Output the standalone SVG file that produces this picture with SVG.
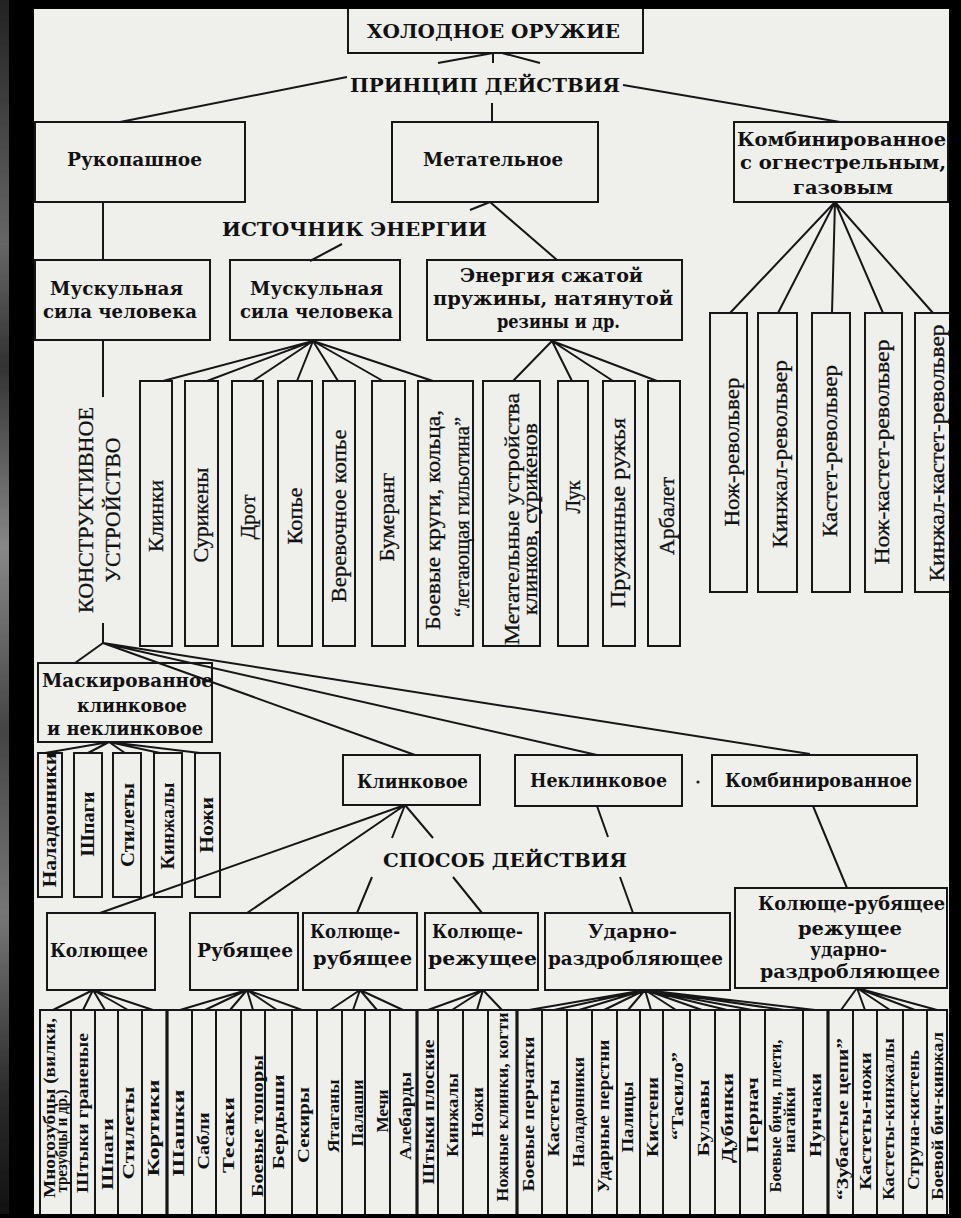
<svg xmlns="http://www.w3.org/2000/svg" width="961" height="1218" viewBox="0 0 961 1218">
<defs>
<linearGradient id="streak" x1="0" y1="0" x2="0" y2="1">
<stop offset="0" stop-color="#222"/><stop offset="0.2" stop-color="#666"/><stop offset="0.3" stop-color="#333"/><stop offset="0.45" stop-color="#888"/><stop offset="0.6" stop-color="#444"/><stop offset="0.75" stop-color="#777"/><stop offset="0.9" stop-color="#2a2a2a"/><stop offset="1" stop-color="#111"/>
</linearGradient>
<style>
.bx{fill:none;stroke:#161616;stroke-width:2}
.ln{fill:none;stroke:#161616;stroke-width:2}
.hd{font-family:"DejaVu Serif","Liberation Serif",serif;font-weight:bold;font-size:19px;fill:#111}
.t{font-family:"DejaVu Serif","Liberation Serif",serif;font-weight:bold;font-size:18px;fill:#111}
.v{font-family:"Liberation Serif","DejaVu Serif",serif;font-size:22px;fill:#111;text-anchor:middle;stroke:#111;stroke-width:0.3}
.vb{font-family:"Liberation Serif","DejaVu Serif",serif;font-weight:bold;font-size:18px;fill:#111;text-anchor:middle}
.vs{font-family:"Liberation Serif","DejaVu Serif",serif;font-weight:bold;font-size:17px;fill:#111;text-anchor:middle}
</style>
</defs>
<rect x="0" y="0" width="961" height="1218" fill="#000"/>
<rect x="0" y="0" width="9" height="1218" fill="url(#streak)"/>
<rect x="34" y="9" width="915" height="1205" fill="#efefec"/>

<g id="connectors" class="ln">
<path d="M493 53L438 63M502 53L540 63M493 53V63M492 103V122M347 77L120 122M623 85L840 122"/>
<path d="M490 202L470 210M490 202L557 260M342 244L310 261"/>
<path d="M103 202V260M103 340V397M103 623V643"/>
<path d="M313 341L163 381M313 341L207 381M313 341L253 381M313 341L297 381M313 341L338 381M313 341L383 381M313 341L433 381"/>
<path d="M552 341L513 381M552 341L572 381M552 341L613 381M552 341L657 381"/>
<path d="M835 202L730 313M835 202L778 313M835 202L832 313M835 202L883 313M835 202L933 313"/>
<path d="M103 643L75 663M103 643L415 755M103 643L597 755M103 643L810 754"/>
<path d="M109 742L45 753M109 742L88 753M109 742L125 753M109 742L160 753M109 742L200 753"/>
<path d="M405 805L392 838M405 805L433 838M405 805L100 913M405 805L247 913M372 877L357 913M453 877L482 913"/>
<path d="M597 806L608 837M620 877L633 913M813 806L847 888"/>
<path d="M93 990L53 1010M93 990L83 1010M93 990L105 1010M93 990L128 1010M93 990L153 1010"/>
<path d="M247 990L180 1010M247 990L205 1010M247 990L230 1010M247 990L253 1010M247 990L277 1010M247 990L302 1010"/>
<path d="M360 990L330 1010M360 990L353 1010M360 990L377 1010M360 990L403 1010"/>
<path d="M483 990L428 1010M483 990L452 1010M483 990L477 1010M483 990L502 1010"/>
<path d="M645 990L529 1010M645 990L554 1010M645 990L579 1010M645 990L604 1010M645 990L628 1010M645 990L651 1010M645 990L676 1010M645 990L702 1010M645 990L727 1010M645 990L752 1010M645 990L784 1010M645 990L815 1010"/>
<path d="M857 988L841 1010M857 988L865 1010M857 988L890 1010M857 988L915 1010M857 988L937 1010"/>
</g>

<g id="n-root"><rect class="bx" x="348" y="2" width="295" height="51"/><text class="hd" x="367" y="38" textLength="253" lengthAdjust="spacingAndGlyphs">ХОЛОДНОЕ ОРУЖИЕ</text></g>
<g id="l-principle"><text class="hd" x="350" y="92" textLength="270" lengthAdjust="spacingAndGlyphs">ПРИНЦИП ДЕЙСТВИЯ</text></g>
<g id="n-hand"><rect class="bx" x="35" y="122" width="210" height="80"/><text class="t" x="67" y="166" textLength="135" lengthAdjust="spacingAndGlyphs">Рукопашное</text></g>
<g id="n-throw"><rect class="bx" x="392" y="122" width="206" height="80"/><text class="t" x="423" y="166" textLength="140" lengthAdjust="spacingAndGlyphs">Метательное</text></g>
<g id="n-combfire"><rect class="bx" x="734" y="122" width="214" height="80"/>
<text class="t" x="737" y="146" textLength="209" lengthAdjust="spacingAndGlyphs">Комбинированное</text>
<text class="t" x="740" y="169" textLength="206" lengthAdjust="spacingAndGlyphs">с  огнестрельным,</text>
<text class="t" x="793" y="194" textLength="100" lengthAdjust="spacingAndGlyphs">газовым</text></g>
<g id="l-energy"><text class="hd" x="222" y="236" textLength="265" lengthAdjust="spacingAndGlyphs">ИСТОЧНИК ЭНЕРГИИ</text></g>
<g id="n-musc1"><rect class="bx" x="35" y="260" width="175" height="80"/>
<text class="t" x="50" y="295" textLength="133" lengthAdjust="spacingAndGlyphs">Мускульная</text>
<text class="t" x="43" y="318" textLength="154" lengthAdjust="spacingAndGlyphs">сила  человека</text></g>
<g id="n-musc2"><rect class="bx" x="230" y="260" width="170" height="80"/>
<text class="t" x="250" y="295" textLength="133" lengthAdjust="spacingAndGlyphs">Мускульная</text>
<text class="t" x="240" y="318" textLength="153" lengthAdjust="spacingAndGlyphs">сила  человека</text></g>
<g id="n-spring"><rect class="bx" x="427" y="260" width="255" height="80"/>
<text class="t" x="460" y="282" textLength="183" lengthAdjust="spacingAndGlyphs">Энергия сжатой</text>
<text class="t" x="433" y="305" textLength="240" lengthAdjust="spacingAndGlyphs">пружины,  натянутой</text>
<text class="t" x="497" y="328" textLength="123" lengthAdjust="spacingAndGlyphs">резины и др.</text></g>

<g id="l-construct">
<text class="v" transform="translate(93,510) rotate(-90)" textLength="206" lengthAdjust="spacingAndGlyphs">КОНСТРУКТИВНОЕ</text>
<text class="v" transform="translate(120,510) rotate(-90)" textLength="145" lengthAdjust="spacingAndGlyphs">УСТРОЙСТВО</text></g>

<g id="n-klinki"><rect class="bx" x="140" y="381" width="32" height="265"/><text class="v" transform="translate(163,516) rotate(-90)" textLength="72" lengthAdjust="spacingAndGlyphs">Клинки</text></g>
<g id="n-suriken"><rect class="bx" x="185" y="381" width="33" height="265"/><text class="v" transform="translate(208,515) rotate(-90)" textLength="95" lengthAdjust="spacingAndGlyphs">Сурикены</text></g>
<g id="n-drot"><rect class="bx" x="232" y="381" width="31" height="265"/><text class="v" transform="translate(255,517) rotate(-90)" textLength="45" lengthAdjust="spacingAndGlyphs">Дрот</text></g>
<g id="n-kopye"><rect class="bx" x="278" y="381" width="34" height="265"/><text class="v" transform="translate(302,516) rotate(-90)" textLength="57" lengthAdjust="spacingAndGlyphs">Копье</text></g>
<g id="n-rope"><rect class="bx" x="323" y="381" width="32" height="265"/><text class="v" transform="translate(346,516) rotate(-90)" textLength="173" lengthAdjust="spacingAndGlyphs">Веревочное  копье</text></g>
<g id="n-boomer"><rect class="bx" x="372" y="381" width="33" height="265"/><text class="v" transform="translate(394,517) rotate(-90)" textLength="89" lengthAdjust="spacingAndGlyphs">Бумеранг</text></g>
<g id="n-circles"><rect class="bx" x="418" y="381" width="55" height="265"/>
<text class="v" transform="translate(440,520) rotate(-90)" textLength="220" lengthAdjust="spacingAndGlyphs">Боевые  круги,  кольца,</text>
<text class="v" transform="translate(469,517) rotate(-90)" textLength="200" lengthAdjust="spacingAndGlyphs">“летающая гильотина”</text></g>
<g id="n-launch"><rect class="bx" x="483" y="381" width="57" height="265"/>
<text class="v" transform="translate(519,519) rotate(-90)" textLength="252" lengthAdjust="spacingAndGlyphs">Метательные  устройства</text>
<text class="v" transform="translate(537,519) rotate(-90)" textLength="192" lengthAdjust="spacingAndGlyphs">клинков,  сурикенов</text></g>
<g id="n-luk"><rect class="bx" x="558" y="381" width="30" height="265"/><text class="v" transform="translate(580,497) rotate(-90)" textLength="33" lengthAdjust="spacingAndGlyphs">Лук</text></g>
<g id="n-springgun"><rect class="bx" x="603" y="381" width="32" height="265"/><text class="v" transform="translate(625,513) rotate(-90)" textLength="190" lengthAdjust="spacingAndGlyphs">Пружинные  ружья</text></g>
<g id="n-arbalet"><rect class="bx" x="648" y="381" width="32" height="265"/><text class="v" transform="translate(674,516) rotate(-90)" textLength="78" lengthAdjust="spacingAndGlyphs">Арбалет</text></g>

<g id="n-knifrev"><rect class="bx" x="710" y="313" width="37" height="279"/><text class="v" transform="translate(739,452) rotate(-90)" textLength="149" lengthAdjust="spacingAndGlyphs">Нож-револьвер</text></g>
<g id="n-dagrev"><rect class="bx" x="758" y="313" width="39" height="279"/><text class="v" transform="translate(787,454) rotate(-90)" textLength="188" lengthAdjust="spacingAndGlyphs">Кинжал-револьвер</text></g>
<g id="n-kastrev"><rect class="bx" x="812" y="313" width="38" height="279"/><text class="v" transform="translate(837,451) rotate(-90)" textLength="172" lengthAdjust="spacingAndGlyphs">Кастет-револьвер</text></g>
<g id="n-knkastrev"><rect class="bx" x="865" y="313" width="37" height="279"/><text class="v" transform="translate(889,452) rotate(-90)" textLength="225" lengthAdjust="spacingAndGlyphs">Нож-кастет-револьвер</text></g>
<g id="n-dgkastrev"><rect class="bx" x="915" y="313" width="40" height="279"/><text class="v" transform="translate(944,453) rotate(-90)" textLength="257" lengthAdjust="spacingAndGlyphs">Кинжал-кастет-револьвер</text></g>

<g id="n-masked"><rect class="bx" x="38" y="663" width="174" height="79"/>
<text class="t" x="42" y="687" textLength="171" lengthAdjust="spacingAndGlyphs">Маскированное</text>
<text class="t" x="77" y="712" textLength="110" lengthAdjust="spacingAndGlyphs">клинковое</text>
<text class="t" x="47" y="735" textLength="156" lengthAdjust="spacingAndGlyphs">и  неклинковое</text></g>
<g id="n-m-nalad"><rect class="bx" x="38" y="753" width="24" height="144"/><text class="vb" transform="translate(56,820) rotate(-90)" textLength="135" lengthAdjust="spacingAndGlyphs">Наладонники</text></g>
<g id="n-m-shpagi"><rect class="bx" x="74" y="753" width="28" height="144"/><text class="vb" transform="translate(94,824) rotate(-90)" textLength="65" lengthAdjust="spacingAndGlyphs">Шпаги</text></g>
<g id="n-m-stilet"><rect class="bx" x="113" y="753" width="28" height="144"/><text class="vb" transform="translate(134,825) rotate(-90)" textLength="84" lengthAdjust="spacingAndGlyphs">Стилеты</text></g>
<g id="n-m-kinzh"><rect class="bx" x="154" y="753" width="28" height="144"/><text class="vb" transform="translate(174,826) rotate(-90)" textLength="87" lengthAdjust="spacingAndGlyphs">Кинжалы</text></g>
<g id="n-m-nozhi"><rect class="bx" x="195" y="753" width="25" height="144"/><text class="vb" transform="translate(213,825) rotate(-90)" textLength="56" lengthAdjust="spacingAndGlyphs">Ножи</text></g>

<g id="n-blade"><rect class="bx" x="343" y="755" width="137" height="50"/><text class="t" x="357" y="788" textLength="111" lengthAdjust="spacingAndGlyphs">Клинковое</text></g>
<g id="n-noblade"><rect class="bx" x="515" y="755" width="167" height="51"/><text class="t" x="530" y="787" textLength="137" lengthAdjust="spacingAndGlyphs">Неклинковое</text></g>
<circle cx="698" cy="782" r="1.6" fill="#222"/>
<g id="n-combined"><rect class="bx" x="712" y="755" width="205" height="51"/><text class="t" x="725" y="787" textLength="187" lengthAdjust="spacingAndGlyphs">Комбинированное</text></g>
<g id="l-method"><text class="hd" x="383" y="867" textLength="244" lengthAdjust="spacingAndGlyphs">СПОСОБ ДЕЙСТВИЯ</text></g>

<g id="n-stab"><rect class="bx" x="47" y="913" width="108" height="77"/><text class="t" x="50" y="957" textLength="98" lengthAdjust="spacingAndGlyphs">Колющее</text></g>
<g id="n-chop"><rect class="bx" x="190" y="913" width="108" height="77"/><text class="t" x="197" y="957" textLength="96" lengthAdjust="spacingAndGlyphs">Рубящее</text></g>
<g id="n-stabchop"><rect class="bx" x="303" y="913" width="114" height="77"/>
<text class="t" x="310" y="938" textLength="90" lengthAdjust="spacingAndGlyphs">Колюще-</text>
<text class="t" x="313" y="965" textLength="99" lengthAdjust="spacingAndGlyphs">рубящее</text></g>
<g id="n-stabcut"><rect class="bx" x="425" y="913" width="113" height="77"/>
<text class="t" x="432" y="938" textLength="91" lengthAdjust="spacingAndGlyphs">Колюще-</text>
<text class="t" x="428" y="965" textLength="109" lengthAdjust="spacingAndGlyphs">режущее</text></g>
<g id="n-crush"><rect class="bx" x="545" y="913" width="185" height="77"/>
<text class="t" x="588" y="938" textLength="89" lengthAdjust="spacingAndGlyphs">Ударно-</text>
<text class="t" x="548" y="965" textLength="175" lengthAdjust="spacingAndGlyphs">раздробляющее</text></g>
<g id="n-all"><rect class="bx" x="735" y="888" width="212" height="100"/>
<text class="t" x="758" y="910" textLength="187" lengthAdjust="spacingAndGlyphs">Колюще-рубящее</text>
<text class="t" x="798" y="935" textLength="104" lengthAdjust="spacingAndGlyphs">режущее</text>
<text class="t" x="810" y="956" textLength="77" lengthAdjust="spacingAndGlyphs">ударно-</text>
<text class="t" x="760" y="978" textLength="180" lengthAdjust="spacingAndGlyphs">раздробляющее</text></g>

<g id="n-strips">
<rect class="bx" x="40" y="1010" width="907" height="206"/>
<path class="ln" d="M71 1010V1216M95 1010V1216M118 1010V1216M142 1010V1216M192 1010V1216M216 1010V1216M241 1010V1216M265 1010V1216M292 1010V1216M317 1010V1216M342 1010V1216M365 1010V1216M390 1010V1216M438 1010V1216M463 1010V1216M488 1010V1216M542 1010V1216M567 1010V1216M592 1010V1216M617 1010V1216M640 1010V1216M663 1010V1216M690 1010V1216M715 1010V1216M740 1010V1216M765 1010V1216M803 1010V1216M853 1010V1216M877 1010V1216M903 1010V1216M927 1010V1216"/>
<path d="M167 1010V1216M417 1010V1216M517 1010V1216M828 1010V1216" stroke="#161616" stroke-width="3.2"/>
</g>
<g id="n-b-labels">
<text class="vs" font-size="14" transform="translate(55,1108) rotate(-90)" textLength="180" lengthAdjust="spacingAndGlyphs">Многозубцы (вилки,</text>
<text class="vs" font-size="14" transform="translate(67,1141) rotate(-90)" textLength="103" lengthAdjust="spacingAndGlyphs">трезубцы и др.)</text>
<text class="vs" transform="translate(88,1113) rotate(-90)" textLength="160" lengthAdjust="spacingAndGlyphs">Штыки граненые</text>
<text class="vs" transform="translate(113,1154) rotate(-90)" textLength="72" lengthAdjust="spacingAndGlyphs">Шпаги</text>
<text class="vs" transform="translate(134,1133) rotate(-90)" textLength="93" lengthAdjust="spacingAndGlyphs">Стилеты</text>
<text class="vs" transform="translate(159,1128) rotate(-90)" textLength="97" lengthAdjust="spacingAndGlyphs">Кортики</text>
<text class="vs" transform="translate(184,1133) rotate(-90)" textLength="87" lengthAdjust="spacingAndGlyphs">Шашки</text>
<text class="vs" transform="translate(209,1141) rotate(-90)" textLength="57" lengthAdjust="spacingAndGlyphs">Сабли</text>
<text class="vs" transform="translate(234,1135) rotate(-90)" textLength="76" lengthAdjust="spacingAndGlyphs">Тесаки</text>
<text class="vs" transform="translate(263,1126) rotate(-90)" textLength="142" lengthAdjust="spacingAndGlyphs">Боевые топоры</text>
<text class="vs" transform="translate(284,1122) rotate(-90)" textLength="95" lengthAdjust="spacingAndGlyphs">Бердыши</text>
<text class="vs" transform="translate(309,1125) rotate(-90)" textLength="76" lengthAdjust="spacingAndGlyphs">Секиры</text>
<text class="vs" transform="translate(339,1116) rotate(-90)" textLength="73" lengthAdjust="spacingAndGlyphs">Ятаганы</text>
<text class="vs" transform="translate(363,1113) rotate(-90)" textLength="67" lengthAdjust="spacingAndGlyphs">Палаши</text>
<text class="vs" transform="translate(388,1111) rotate(-90)" textLength="43" lengthAdjust="spacingAndGlyphs">Мечи</text>
<text class="vs" transform="translate(411,1116) rotate(-90)" textLength="88" lengthAdjust="spacingAndGlyphs">Алебарды</text>
<text class="vs" transform="translate(434,1112) rotate(-90)" textLength="145" lengthAdjust="spacingAndGlyphs">Штыки плоские</text>
<text class="vs" transform="translate(458,1115) rotate(-90)" textLength="84" lengthAdjust="spacingAndGlyphs">Кинжалы</text>
<text class="vs" transform="translate(483,1112) rotate(-90)" textLength="50" lengthAdjust="spacingAndGlyphs">Ножи</text>
<text class="vs" transform="translate(508,1107) rotate(-90)" textLength="189" lengthAdjust="spacingAndGlyphs">Ножные клинки, когти</text>
<text class="vs" transform="translate(534,1114) rotate(-90)" textLength="155" lengthAdjust="spacingAndGlyphs">Боевые перчатки</text>
<text class="vs" transform="translate(559,1118) rotate(-90)" textLength="77" lengthAdjust="spacingAndGlyphs">Кастеты</text>
<text class="vs" transform="translate(584,1112) rotate(-90)" textLength="110" lengthAdjust="spacingAndGlyphs">Наладонники</text>
<text class="vs" transform="translate(609,1116) rotate(-90)" textLength="153" lengthAdjust="spacingAndGlyphs">Ударные перстни</text>
<text class="vs" transform="translate(633,1117) rotate(-90)" textLength="71" lengthAdjust="spacingAndGlyphs">Палицы</text>
<text class="vs" transform="translate(658,1117) rotate(-90)" textLength="80" lengthAdjust="spacingAndGlyphs">Кистени</text>
<text class="vs" transform="translate(683,1096) rotate(-90)" textLength="88" lengthAdjust="spacingAndGlyphs">“Тасило”</text>
<text class="vs" transform="translate(709,1118) rotate(-90)" textLength="77" lengthAdjust="spacingAndGlyphs">Булавы</text>
<text class="vs" transform="translate(733,1118) rotate(-90)" textLength="90" lengthAdjust="spacingAndGlyphs">Дубинки</text>
<text class="vs" transform="translate(758,1115) rotate(-90)" textLength="76" lengthAdjust="spacingAndGlyphs">Пернач</text>
<text class="vs" font-size="14" transform="translate(781,1116) rotate(-90)" textLength="153" lengthAdjust="spacingAndGlyphs">Боевые бичи, плети,</text>
<text class="vs" font-size="14" transform="translate(795,1120) rotate(-90)" textLength="66" lengthAdjust="spacingAndGlyphs">нагайки</text>
<text class="vs" transform="translate(821,1115) rotate(-90)" textLength="84" lengthAdjust="spacingAndGlyphs">Нунчаки</text>
<text class="vs" transform="translate(848,1119) rotate(-90)" textLength="162" lengthAdjust="spacingAndGlyphs">“Зубастые цепи”</text>
<text class="vs" transform="translate(871,1121) rotate(-90)" textLength="138" lengthAdjust="spacingAndGlyphs">Кастеты-ножи</text>
<text class="vs" transform="translate(894,1119) rotate(-90)" textLength="162" lengthAdjust="spacingAndGlyphs">Кастеты-кинжалы</text>
<text class="vs" transform="translate(919,1120) rotate(-90)" textLength="140" lengthAdjust="spacingAndGlyphs">Струна-кистень</text>
<text class="vs" transform="translate(943,1116) rotate(-90)" textLength="168" lengthAdjust="spacingAndGlyphs">Боевой бич-кинжал</text>
</g>
<rect x="949" y="0" width="12" height="1218" fill="#000"/>
<rect x="0" y="1214" width="961" height="4" fill="#000"/>
<rect x="9" y="0" width="952" height="9" fill="#000"/>
</svg>
